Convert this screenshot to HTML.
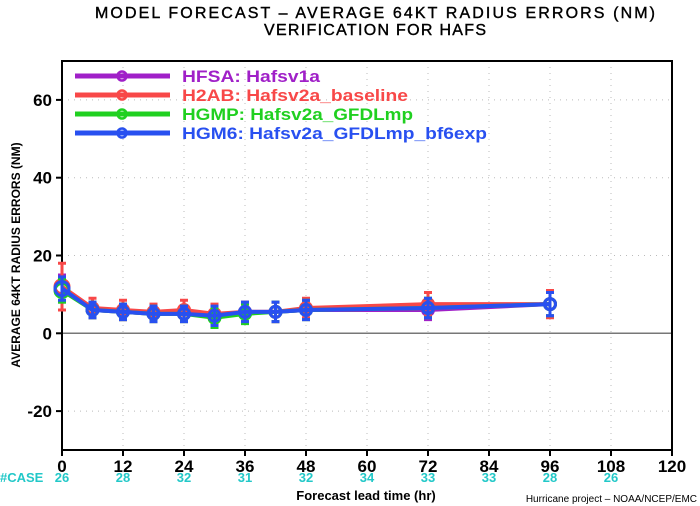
<!DOCTYPE html>
<html><head><meta charset="utf-8"><style>
html,body{margin:0;padding:0;background:#fff;}
svg{display:block;font-family:"Liberation Sans",sans-serif;}
</style></head><body>
<svg id="chart" width="700" height="506" viewBox="0 0 700 506" xmlns="http://www.w3.org/2000/svg">
<text x="375" y="18" text-anchor="middle" font-size="16" fill="#000" stroke="#000" stroke-width="0.4" textLength="560" lengthAdjust="spacing">MODEL FORECAST – AVERAGE 64KT RADIUS ERRORS (NM)</text>
<text x="375" y="35" text-anchor="middle" font-size="16" fill="#000" stroke="#000" stroke-width="0.4" textLength="222" lengthAdjust="spacing">VERIFICATION FOR HAFS</text>
<g id="grid"></g>
<g id="axes"></g>
<g id="series"></g>
<g id="legend"></g>
<text transform="translate(20,255) rotate(-90)" text-anchor="middle" font-size="12" font-weight="bold" fill="#000">AVERAGE 64KT RADIUS ERRORS (NM)</text>
<text x="366" y="500" text-anchor="middle" font-size="13" font-weight="bold" fill="#000">Forecast lead time (hr)</text>
<text x="697" y="502" text-anchor="end" font-size="10" fill="#000">Hurricane project – NOAA/NCEP/EMC</text>
<text x="0" y="482" font-size="13" font-weight="bold" fill="#22c8c8">#CASE</text>
</svg>
<script>
const hours = [0,6,12,18,24,30,36,42,48,72,96];
const hfsa = [11.5,6,5.5,5,5,4.5,5.5,5.5,6,6,7.5];
const h2ab = [12,6.5,6,5.5,6,5,5.5,5.5,6.5,7.5,7.5];
const hgmp = [11,6,5.5,5,5,4,5,5.5,6,6.5,7.5];
const hgm6 = [11.5,6,5.5,5,5,4.5,5.5,5.5,6,6.5,7.5];
const errHfsa = [3.5,2,2,2,2,2.5,2.5,2.5,2.5,2.5,3];
const errH2ab = [6,2.5,2.5,2,2.5,2.5,2.5,2.5,2.5,3,3.5];
const errHgmp = [3,2,2,2,2,2.5,2.5,2.5,2.5,2.5,3];
const errHgm6 = [3,2,2,2,2,2.5,2.5,2.5,2.5,2.5,3];
const xTicks = [0,12,24,36,48,60,72,84,96,108,120];
const yTicks = [-20,0,20,40,60];
const caseHours = [0,12,24,36,48,60,72,84,96,108];
const caseCounts = [26,28,32,31,32,34,33,33,28,26];
const seriesNames = ["HFSA: Hafsv1a","H2AB: Hafsv2a_baseline","HGMP: Hafsv2a_GFDLmp","HGM6: Hafsv2a_GFDLmp_bf6exp"];
const seriesColors = ["#a020c8","#f84848","#20d020","#2850f0"];
const legendWidths = [138,226,231,305];

const X0=62,X1=672,Y0=61,Y1=450;
const xs = h => X0 + h/120*(X1-X0);
const ys = v => Y1 - (v+30)/100*(Y1-Y0);
const NS="http://www.w3.org/2000/svg";
function mk(tag, parent, attrs){const e=document.createElementNS(NS,tag);for(const k in attrs)e.setAttribute(k,attrs[k]);parent.appendChild(e);return e;}
const grid=document.getElementById('grid'), axes=document.getElementById('axes'), ser=document.getElementById('series'), leg=document.getElementById('legend'), svg=document.getElementById('chart');

for(const t of xTicks){ if(t>0&&t<120){const l=mk('line',grid,{x1:xs(t),x2:xs(t),y1:Y0,y2:Y1,stroke:'#bbb','stroke-dasharray':'1 5'});

}
 const tk=mk('line',axes,{x1:xs(t),x2:xs(t),y1:Y1,y2:Y1+6,stroke:'#000','stroke-width':2});
 
 
 const tl=mk('text',axes,{x:xs(t),y:Y1+22,'text-anchor':'middle','font-size':17,'font-weight':'bold',fill:'#000'});tl.textContent=t;
 
 }
for(const t of yTicks){ if(t!==0){const l=mk('line',grid,{x1:X0,x2:X1,y1:ys(t),y2:ys(t),stroke:'#bbb','stroke-dasharray':'1 5'});
 
 }
 const tk=mk('line',axes,{x1:X0-6,x2:X0,y1:ys(t),y2:ys(t),stroke:'#000','stroke-width':2});
 
 
 const tl=mk('text',axes,{x:X0-10,y:ys(t)+6,'text-anchor':'end','font-size':17,'font-weight':'bold',fill:'#000'});tl.textContent=t;
 
 }
const zl=mk('line',axes,{x1:X0,x2:X1,y1:ys(0),y2:ys(0),stroke:'#777','stroke-width':1.5});


const fr=mk('rect',axes,{x:X0,y:Y0,width:X1-X0,height:Y1-Y0,fill:'none',stroke:'#000','stroke-width':2});



caseHours.forEach((h,i)=>{const t=mk('text',svg,{x:xs(h),y:482,'text-anchor':'middle','font-size':13,'font-weight':'bold',fill:'#22c8c8'});t.textContent=caseCounts[i];
 
 });

const data=[hfsa,h2ab,hgmp,hgm6], errs=[errHfsa,errH2ab,errHgmp,errHgm6];
data.forEach((vals,si)=>{const c=seriesColors[si];
 const g=mk('g',ser,{});
 
 
 hours.forEach((h,i)=>{const x=xs(h),e=errs[si][i];
  const b=mk('path',g,{d:`M${x},${ys(vals[i]-e)}V${ys(vals[i]+e)}M${x-4},${ys(vals[i]-e)}h8M${x-4},${ys(vals[i]+e)}h8`,stroke:c,'stroke-width':3,fill:'none'});
  
  });
 const pl=mk('polyline',g,{points:hours.map((h,i)=>xs(h)+','+ys(vals[i])).join(' '),fill:'none',stroke:c,'stroke-width':4,'stroke-linejoin':'round'});
 
 
 hours.forEach((h,i)=>{const p=mk('circle',g,{cx:xs(h),cy:ys(vals[i]),r:h===0?7:5.5,fill:'none',stroke:c,'stroke-width':3});
  
  });
});

seriesNames.forEach((n,i)=>{const y=76+i*19,c=seriesColors[i];
 const g=mk('g',leg,{});
 
 
 mk('line',g,{x1:75,x2:170,y1:y,y2:y,stroke:c,'stroke-width':5});
 mk('circle',g,{cx:122,cy:y,r:4.5,fill:'none',stroke:c,'stroke-width':2.5});
 const t=mk('text',g,{x:182,y:y+6,'font-size':17,'font-weight':'bold',fill:c,textLength:legendWidths[i],lengthAdjust:'spacingAndGlyphs'});t.textContent=n;});
</script>
</body></html>
